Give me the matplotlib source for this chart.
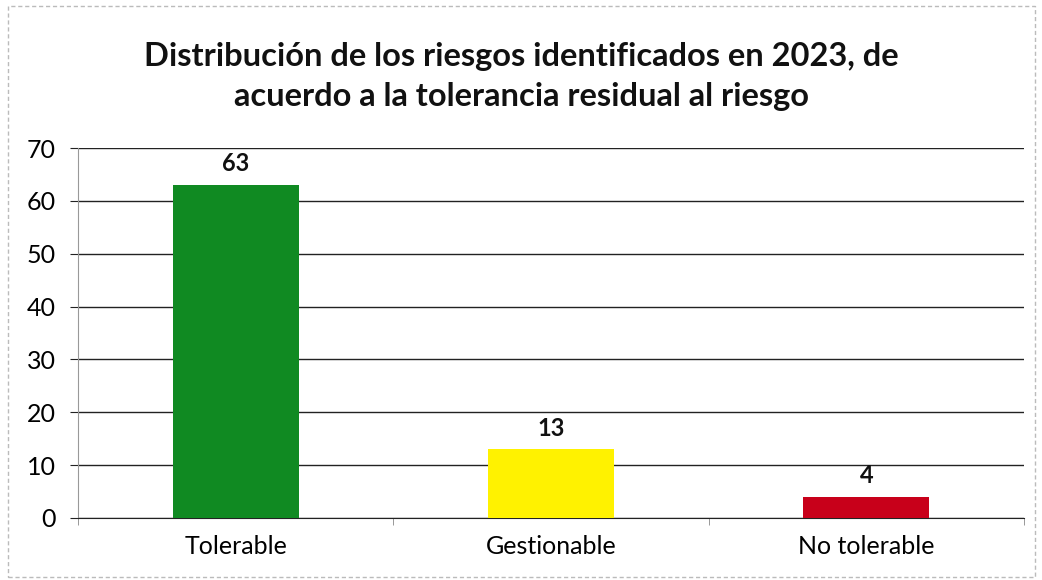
import matplotlib.pyplot as plt
from matplotlib.patches import Rectangle

categories = ["Tolerable", "Gestionable", "No tolerable"]
values = [63, 13, 4]
colors = ["#108a22", "#fff200", "#c8001a"]
title = "Distribución de los riesgos identificados en 2023, de\nacuerdo a la tolerancia residual al riesgo"

plt.rcParams['font.family'] = ['Lato', 'DejaVu Sans']

fig = plt.figure(figsize=(10.42, 5.8), dpi=100)
ax = fig.add_axes([0.0749, 0.1069, 0.9078, 0.6379])

x = range(len(categories))
bars = ax.bar(x, values, width=0.4, color=colors, zorder=3)
for b, v in zip(bars, values):
    ax.annotate(str(v), (b.get_x() + b.get_width() / 2, v), xytext=(0, 7),
                textcoords='offset points', ha='center', va='bottom',
                fontsize=17, fontweight='bold', color='#111111')

ax.set_xlim(-0.5, len(categories) - 0.5)
ax.set_ylim(0, 70)
ax.set_yticks(range(0, 71, 10))
ax.yaxis.grid(True, color='#222222', linewidth=1.0, zorder=0)
ax.set_axisbelow(True)

ax.set_xticks(list(x))
ax.set_xticklabels(categories, fontsize=18)
ax.tick_params(axis='x', length=0, pad=12)
ax.set_xticks([i - 0.5 for i in range(len(categories) + 1)], minor=True)
ax.tick_params(axis='x', which='minor', length=5, color='#888888')
ax.tick_params(axis='y', labelsize=18, length=6, color='#222222', pad=10)

for s in ['top', 'right']:
    ax.spines[s].set_visible(False)
ax.spines['left'].set_color('#999999')
ax.spines['bottom'].set_color('#222222')

fig.text(0.5, 0.868, title, ha='center', va='center', fontsize=23.5,
         fontweight='bold', color='#111111', linespacing=1.45)

fig.patches.append(Rectangle((0.008, 0.005), 0.985, 0.985, transform=fig.transFigure,
                             fill=False, edgecolor='#bbbbbb', linewidth=1, linestyle=(0, (3, 2))))

fig.savefig("out.png", dpi=100)
